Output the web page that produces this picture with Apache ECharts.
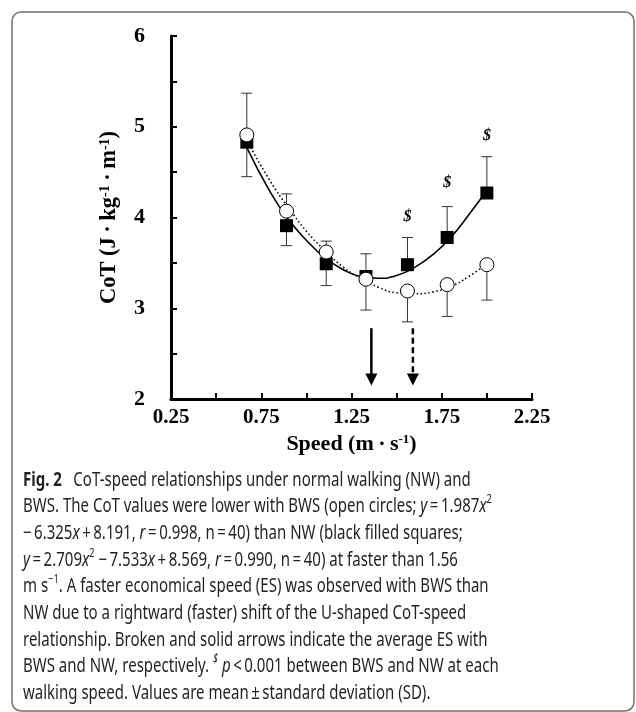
<!DOCTYPE html>
<html><head><meta charset="utf-8">
<script src="https://cdn.jsdelivr.net/npm/echarts@6/dist/echarts.min.js"></script>
<style>html,body{margin:0;padding:0;background:#fff}#c{width:636px;height:712px}</style>
</head><body><div id="c"></div>
<script>
// ---- data ----
const speeds   = [0.67, 0.89, 1.11, 1.33, 1.56, 1.78, 2.00];
const nwMean   = [4.83, 3.91, 3.49, 3.35, 3.48, 3.78, 4.27];
const nwSD     = [0.54, 0.35, 0.25, 0.25, 0.30, 0.34, 0.40];
const bwsMean  = [4.91, 4.07, 3.62, 3.32, 3.19, 3.26, 3.48];
const bwsSD    = [0.46, 0.38, 0.37, 0.34, 0.34, 0.35, 0.39];
const fitX     = [0.67, 0.8, 0.9, 1.0, 1.1, 1.2, 1.3, 1.4, 1.5, 1.6, 1.7, 1.8, 1.9, 2.0];
const nwFit    = [4.77, 4.28, 3.98, 3.75, 3.56, 3.43, 3.35, 3.33, 3.36, 3.45, 3.59, 3.78, 4.03, 4.30];
const bwsFit   = [4.85, 4.40, 4.11, 3.85, 3.64, 3.46, 3.33, 3.23, 3.17, 3.16, 3.18, 3.24, 3.35, 3.49];
const esX      = [1.36, 1.59];          // solid arrow (NW), broken arrow (BWS)
const arrowTop = [2.78, 2.78];
const arrowTip = [2.15, 2.15];
const sigX     = [1.56, 1.78, 2.00];
const sigY     = [4.01, 4.38, 4.90];
const xTickLabels = ['0.25', '0.75', '1.25', '1.75', '2.25'];
const yTickLabels = ['2', '3', '4', '5', '6'];

const capLines = [
  '{b|Fig. 2}\u2002 CoT-speed relationships under normal walking (NW) and',
  'BWS. The CoT values were lower with BWS (open circles; {i|y}\u2009=\u20091.987{i|x}{s|2}',
  '\u2212\u20096.325{i|x}\u2009+\u20098.191, {i|r}\u2009=\u20090.998, n\u2009=\u200940) than NW (black filled squares;',
  '{i|y}\u2009=\u20092.709{i|x}{s|2} \u2212\u20097.533{i|x}\u2009+\u20098.569, {i|r}\u2009=\u20090.990, n\u2009=\u200940) at faster than 1.56',
  'm s{s|\u22121}. A faster economical speed (ES) was observed with BWS than',
  'NW due to a rightward (faster) shift of the U-shaped CoT-speed',
  'relationship. Broken and solid arrows indicate the average ES with',
  'BWS and NW, respectively. {si|$} {i|p}\u2009<\u20090.001 between BWS and NW at each',
  'walking speed. Values are mean\u2009\u00b1\u2009standard deviation (SD).'
];

const SERIF = '"Liberation Serif", "Times New Roman", serif';
const SANS = '"Noto Sans", "Open Sans", sans-serif';
const CAPC = '#231f20';
const capRich = {
  b: { fontFamily: SANS, fontSize: 19.5, fontWeight: 'bold', fill: CAPC, lineHeight: 26 },
  i: { fontFamily: SANS, fontSize: 19.5, fontStyle: 'italic', fill: CAPC, lineHeight: 26 },
  s: { fontFamily: SANS, fontSize: 12, fill: CAPC, verticalAlign: 'top', lineHeight: 14 },
  si: { fontFamily: SANS, fontSize: 12, fontStyle: 'italic', fill: CAPC, verticalAlign: 'top', lineHeight: 14 }
};

const chart = echarts.init(document.getElementById('c'), null, { renderer: 'canvas' });

function errRender(params, api) {
  const p0 = api.coord([api.value(0), api.value(1)]);
  const p1 = api.coord([api.value(0), api.value(2)]);
  const hw = 5.5;
  const st = { stroke: '#333', lineWidth: 1 };
  return { type: 'group', children: [
    { type: 'line', shape: { x1: p0[0], y1: p0[1], x2: p1[0], y2: p1[1] }, style: st },
    { type: 'line', shape: { x1: p1[0] - hw, y1: p1[1], x2: p1[0] + hw, y2: p1[1] }, style: st }
  ]};
}

function arrowRender(params, api) {
  const top = api.coord([api.value(0), api.value(1)]);
  const tip = api.coord([api.value(0), api.value(2)]);
  const dashed = api.value(3) === 1;
  const hh = 12, hw = 6;
  return { type: 'group', children: [
    { type: 'line', shape: { x1: top[0], y1: top[1], x2: tip[0], y2: tip[1] - hh + 1 },
      style: { stroke: '#000', lineWidth: 2.5, lineDash: dashed ? [6, 3.5] : null } },
    { type: 'polygon', shape: { points: [[tip[0] - hw, tip[1] - hh], [tip[0] + hw, tip[1] - hh], [tip[0], tip[1]]] },
      style: { fill: '#000' } }
  ]};
}

const option = {
  animation: false,
  backgroundColor: '#fff',
  grid: { left: 171, top: 36, right: 104, bottom: 313, containLabel: false },
  xAxis: {
    type: 'value', min: 0.25, max: 2.25, interval: 0.25,
    name: 'Speed (m\u2009\u00b7\u2009s{s|-1})', nameLocation: 'middle', nameGap: 32,
    nameTextStyle: { fontFamily: SERIF, fontWeight: 'bold', fontSize: 22, color: '#000',
      rich: { s: { fontFamily: SERIF, fontWeight: 'bold', fontSize: 13, color: '#000', verticalAlign: 'top', lineHeight: 14 } } },
    axisLine: { show: true, lineStyle: { color: '#000', width: 3 } },
    axisTick: { show: true, inside: true, length: 6, lineStyle: { color: '#000', width: 2 } },
    splitLine: { show: false },
    axisLabel: { margin: 8, fontFamily: SERIF, fontWeight: 'bold', fontSize: 21, color: '#000',
      formatter: v => { const s = v.toFixed(2); return xTickLabels.includes(s) ? s : ''; } }
  },
  yAxis: {
    type: 'value', min: 2, max: 6, interval: 0.5,
    name: 'CoT (J\u2009\u00b7\u2009kg{s|-1}\u2009\u00b7\u2009m{s|-1})', nameLocation: 'middle', nameGap: 50, nameRotate: 90,
    nameTextStyle: { fontFamily: SERIF, fontWeight: 'bold', fontSize: 22.5, color: '#000',
      rich: { s: { fontFamily: SERIF, fontWeight: 'bold', fontSize: 14, color: '#000', verticalAlign: 'top', lineHeight: 14 } } },
    axisLine: { show: true, lineStyle: { color: '#000', width: 3 } },
    axisTick: { show: true, inside: true, length: 6, lineStyle: { color: '#000', width: 2 } },
    splitLine: { show: false },
    axisLabel: { margin: 26, fontFamily: SERIF, fontWeight: 'bold', fontSize: 22, color: '#000',
      formatter: v => { const s = String(v); return yTickLabels.includes(s) ? s : ''; } }
  },
  series: [
    { type: 'line', data: fitX.map((x, i) => [x, nwFit[i]]), smooth: true, showSymbol: false, symbol: 'none',
      lineStyle: { color: '#000', width: 1.6 }, z: 2, silent: true },
    { type: 'line', data: fitX.map((x, i) => [x, bwsFit[i]]), smooth: true, showSymbol: false, symbol: 'none',
      lineStyle: { color: '#000', width: 1.6, type: [1.5, 2.5] }, z: 2, silent: true },
    { type: 'custom', renderItem: errRender, encode: { x: 0, y: [1, 2] },
      data: speeds.map((s, i) => [s, nwMean[i], nwMean[i] + nwSD[i]]), z: 3, silent: true },
    { type: 'custom', renderItem: errRender, encode: { x: 0, y: [1, 2] },
      data: speeds.map((s, i) => [s, bwsMean[i], bwsMean[i] - bwsSD[i]]), z: 3, silent: true },
    { type: 'scatter', data: speeds.map((s, i) => [s, nwMean[i]]), symbol: 'rect', symbolSize: 13,
      itemStyle: { color: '#000', opacity: 1 }, z: 4, silent: true },
    { type: 'scatter', data: speeds.map((s, i) => [s, bwsMean[i]]), symbol: 'circle', symbolSize: 14,
      itemStyle: { color: '#fff', borderColor: '#000', borderWidth: 1, opacity: 1 }, z: 5, silent: true },
    { type: 'custom', renderItem: arrowRender, encode: { x: 0, y: [1, 2] },
      data: esX.map((x, i) => [x, arrowTop[i], arrowTip[i], i]), z: 6, silent: true },
    { type: 'scatter', data: sigX.map((x, i) => [x, sigY[i]]), symbolSize: 0, silent: true, z: 6,
      itemStyle: { opacity: 1 },
      label: { show: true, position: 'inside', formatter: '$', fontFamily: SERIF, fontWeight: 'bold',
        fontStyle: 'italic', fontSize: 16, color: '#000', opacity: 1 } }
  ],
  graphic: [
    { type: 'rect', shape: { x: 12, y: 12, width: 622, height: 699, r: 9 },
      style: { fill: 'none', stroke: '#707070', lineWidth: 1.5 }, silent: true }
  ].concat(capLines.map((t, i) => ({
    type: 'text', x: 23, y: 480 + i * 26.7, scaleX: 0.77, silent: true,
    style: { text: t, x: 0, y: 0, fontFamily: SANS, fontSize: 19.5, fill: CAPC,
      verticalAlign: 'middle', lineHeight: 26, rich: capRich }
  })))
};
chart.setOption(option);
</script>
</body></html>
